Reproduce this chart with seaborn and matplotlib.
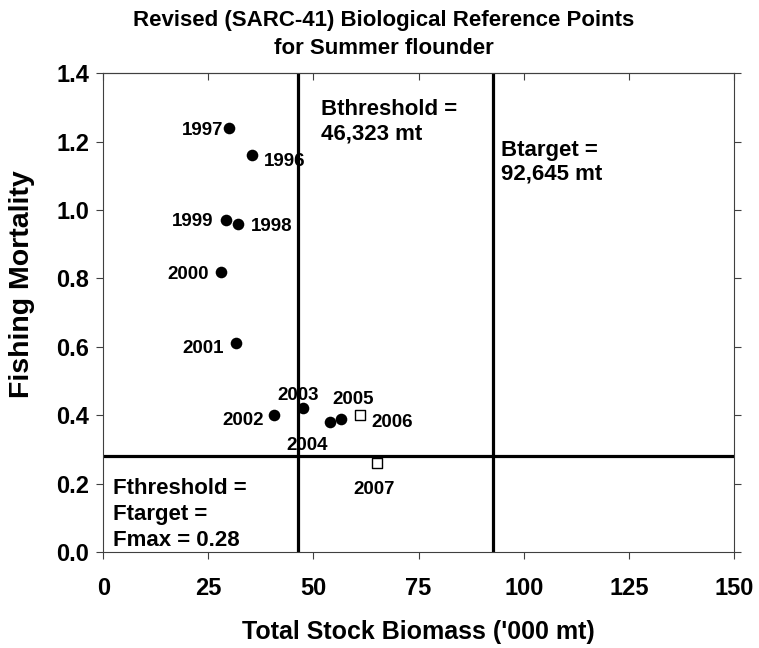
import numpy as np
import pandas as pd
import seaborn as sns
import matplotlib.pyplot as plt

# datos
años = [1996, 1997, 1998, 1999, 2000, 2001, 2002, 2003, 2004, 2005]
biomasa = [35.4, 29.9, 32.1, 29.3, 27.9, 31.6, 40.6, 47.4, 53.9, 56.5]
mortalidad = [1.16, 1.24, 0.96, 0.97, 0.82, 0.61, 0.40, 0.42, 0.38, 0.39]

años_nuevos = [2006, 2007]
biomasa_nueva = [61.1, 65.0]
mortalidad_nueva = [0.40, 0.26]

b_threshold = 46.323
b_target = 92.645
f_threshold = 0.28

# desplazamiento de las etiquetas (pixeles)
desp = {1996: (33, -6), 1997: (-26, -3), 1998: (33, -3), 1999: (-34, -1),
        2000: (-32, -3), 2001: (-33, -5), 2002: (-31, -5), 2003: (-4, 13),
        2004: (-23, -23), 2005: (12, 19), 2006: (32, -7), 2007: (-2, -26)}

sns.set_style("ticks")
plt.rcParams['font.family'] = ['Liberation Sans', 'DejaVu Sans']
plt.rcParams['font.weight'] = 'bold'
plt.rcParams['text.color'] = 'black'
plt.rcParams['axes.labelcolor'] = 'black'

df = pd.DataFrame({"año": años, "B": biomasa, "F": mortalidad})
df2 = pd.DataFrame({"año": años_nuevos, "B": biomasa_nueva, "F": mortalidad_nueva})

fig = plt.figure(figsize=(7.59, 6.48), dpi=100)
ax = fig.add_axes([0.136, 0.148, 0.831, 0.739])

sns.scatterplot(data=df, x="B", y="F", color="black", marker="o", s=70,
                edgecolor="black", linewidth=0, ax=ax, zorder=3)
sns.scatterplot(data=df2, x="B", y="F", facecolor="white", marker="s", s=50,
                edgecolor="black", linewidth=1, ax=ax, zorder=3)

for a, b, f in zip(años + años_nuevos, biomasa + biomasa_nueva,
                   mortalidad + mortalidad_nueva):
    ax.annotate(str(a), (b, f), xytext=desp[a], textcoords="offset pixels",
                ha="center", va="center", fontsize=13.5, fontweight="bold")

ax.axvline(b_threshold, color="black", lw=2.3, zorder=2)
ax.axvline(b_target, color="black", lw=2.3, zorder=2)
ax.axhline(f_threshold, color="black", lw=2.3, zorder=2)

# textos de los puntos de referencia
ax.text(51.8, 1.326, "Bthreshold =\n46,323 mt", fontsize=16, fontweight="bold",
        va="top", ha="left", linespacing=1.25)
ax.text(94.7, 1.205, "Btarget =\n92,645 mt", fontsize=16, fontweight="bold",
        va="top", ha="left", linespacing=1.15)
ax.text(2.4, 0.218, "Fthreshold =\nFtarget =\nFmax = 0.28", fontsize=16,
        fontweight="bold", va="top", ha="left", linespacing=1.32)

ax.set_xlim(0, 150)
ax.set_ylim(0, 1.4)
ax.set_xticks(np.arange(0, 151, 25))
ax.set_yticks(np.arange(0, 1.41, 0.2))
ax.set_yticklabels([f"{v:.1f}" for v in np.arange(0, 1.41, 0.2)])
ax.tick_params(axis="both", labelsize=17, length=5, width=0.8,
               color="#404040", labelcolor="black", direction="out")
ax.tick_params(axis="x", pad=13)
ax.tick_params(axis="y", right=True, pad=5)
for lab in ax.get_xticklabels() + ax.get_yticklabels():
    lab.set_fontweight("bold")

sec = ax.secondary_xaxis("top")
sec.set_xticks(np.arange(0, 151, 25))
sec.tick_params(direction="in", labeltop=False, length=5, width=0.8,
                color="#404040")
sec.spines["top"].set_color("#404040")
sec.spines["top"].set_linewidth(0.8)

for s in ax.spines.values():
    s.set_visible(True)
    s.set_color("#404040")
    s.set_linewidth(0.8)

ax.set_xlabel("Total Stock Biomass ('000 mt)", fontsize=18, fontweight="bold",
              labelpad=14)
ax.set_ylabel("Fishing Mortality", fontsize=20.5, fontweight="bold")
ax.yaxis.set_label_coords(-0.108, 0.56)

fig.suptitle("Revised (SARC-41) Biological Reference Points\nfor Summer flounder",
             x=0.506, y=0.984, va="top", fontsize=16, fontweight="bold",
             linespacing=1.4)

fig.savefig("out.png", dpi=100)
